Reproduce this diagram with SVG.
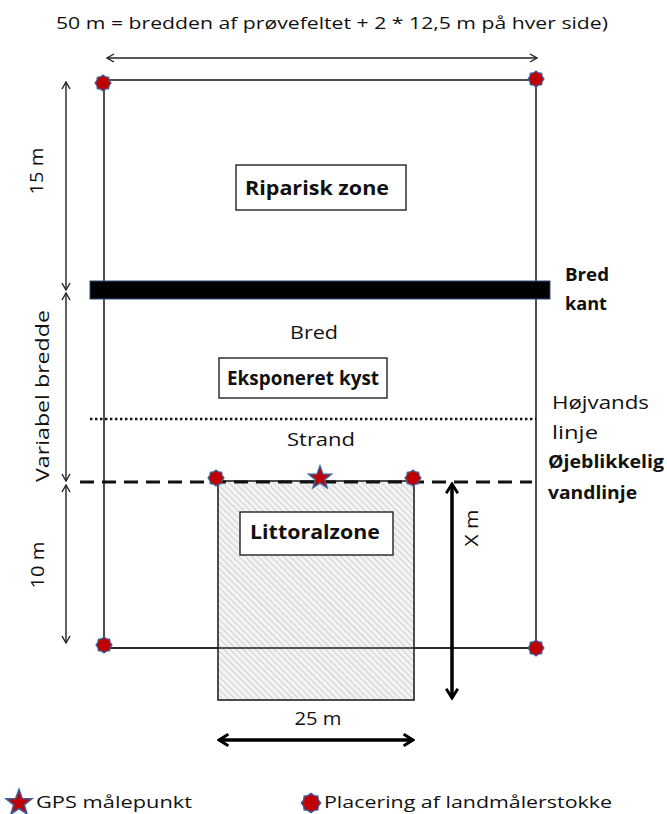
<svg xmlns="http://www.w3.org/2000/svg" width="667" height="814" viewBox="0 0 667 814">
<style>
text{font-family:"Open Sans","Liberation Sans",sans-serif;fill:#111}
.lbl{font-size:18px}
.b{font-weight:bold}
.dim{stroke:#222;stroke-width:1.4;fill:none;marker-start:url(#oa);marker-end:url(#oa)}
.thick{stroke:#000;stroke-width:3.5;fill:none;marker-start:url(#ta);marker-end:url(#ta)}
.box{fill:#fff;stroke:#222;stroke-width:1.4}
.pt{fill:#c00000;stroke:#3a5f9a;stroke-width:1.2}
</style>
<defs>
<marker id="oa" viewBox="0 0 10 10" refX="9" refY="5" markerWidth="10" markerHeight="10" markerUnits="userSpaceOnUse" orient="auto-start-reverse">
<path d="M2,1 L9,5 L2,9" fill="none" stroke="#222" stroke-width="1.4"/>
</marker>
<marker id="ta" viewBox="0 0 12 12" refX="10" refY="6" markerWidth="14" markerHeight="14" markerUnits="userSpaceOnUse" orient="auto-start-reverse">
<path d="M2,1 L10,6 L2,11" fill="none" stroke="#000" stroke-width="2.5"/>
</marker>
<pattern id="hatch" width="4.5" height="4.5" patternUnits="userSpaceOnUse" patternTransform="rotate(-45)">
<rect width="4.5" height="4.5" fill="#f3f3f3"/>
<line x1="0" y1="0" x2="0" y2="4.5" stroke="#c8c8c8" stroke-width="1.6"/>
</pattern>
<polygon id="oct" class="pt" points="0,-8 2.6,-6.1 5.7,-5.7 6.1,-2.6 8,0 6.1,2.6 5.7,5.7 2.6,6.1 0,8 -2.6,6.1 -5.7,5.7 -6.1,2.6 -8,0 -6.1,-2.6 -5.7,-5.7 -2.6,-6.1"/>
<polygon id="star" class="pt" points="0,-10 2.4,-3.3 9.5,-3.1 3.9,1.3 5.9,8.1 0,4.1 -5.9,8.1 -3.9,1.3 -9.5,-3.1 -2.4,-3.3"/>
</defs>

<text x="332" y="29" font-size="17" text-anchor="middle" textLength="552" lengthAdjust="spacingAndGlyphs">50 m = bredden af prøvefeltet + 2 * 12,5 m på hver side)</text>

<g id="plot">
<rect x="104" y="80" width="432" height="568" fill="#fff" stroke="#222" stroke-width="1.6"/>
</g>
<g id="littoral-area">
<rect x="218" y="481" width="196" height="219" fill="url(#hatch)" stroke="#222" stroke-width="1.6"/>
<line x1="104" y1="648" x2="536" y2="648" stroke="#222" stroke-width="1.6"/>
</g>

<g id="connectors">
<line class="dim" x1="107" y1="58" x2="537" y2="58"/>
<line class="dim" x1="66" y1="82" x2="66" y2="290"/>
<line class="dim" x1="66" y1="293" x2="66" y2="481"/>
<line class="dim" x1="66" y1="485" x2="66" y2="643"/>
<line class="thick" x1="452" y1="484" x2="452" y2="698"/>
<line class="thick" x1="219" y1="740" x2="413" y2="740"/>
<line x1="90" y1="419" x2="536" y2="419" stroke="#111" stroke-width="2.4" stroke-dasharray="2.4,2.6"/>
<line x1="80" y1="482" x2="532" y2="482" stroke="#111" stroke-width="3" stroke-dasharray="14,8"/>
</g>

<g id="bank-edge">
<rect x="90" y="281" width="460" height="18" fill="#000" stroke="#2f4f7f" stroke-width="1"/>
</g>

<g id="riparisk">
<rect class="box" x="236" y="165" width="170" height="45"/>
<text class="b" x="317" y="195" text-anchor="middle" font-size="20" textLength="144" lengthAdjust="spacingAndGlyphs">Riparisk zone</text>
</g>
<g id="eksponeret">
<rect class="box" x="219" y="358" width="168" height="40"/>
<text class="b" x="303" y="385" text-anchor="middle" font-size="19" textLength="152" lengthAdjust="spacingAndGlyphs">Eksponeret kyst</text>
</g>
<g id="littoralzone">
<rect class="box" x="240" y="512" width="153" height="43"/>
<text class="b" x="315" y="539" text-anchor="middle" font-size="20" textLength="130" lengthAdjust="spacingAndGlyphs">Littoralzone</text>
</g>

<g id="labels">
<text class="lbl" x="314" y="339" text-anchor="middle" textLength="48" lengthAdjust="spacingAndGlyphs">Bred</text>
<text class="lbl" x="321" y="446" text-anchor="middle" textLength="68" lengthAdjust="spacingAndGlyphs">Strand</text>
<text class="lbl b" x="565" y="281" textLength="44" lengthAdjust="spacingAndGlyphs">Bred</text>
<text class="lbl b" x="565" y="310" textLength="42" lengthAdjust="spacingAndGlyphs">kant</text>
<text class="lbl" x="552" y="409" textLength="97" lengthAdjust="spacingAndGlyphs">Højvands</text>
<text class="lbl" x="552" y="439" textLength="46" lengthAdjust="spacingAndGlyphs">linje</text>
<text class="lbl b" x="548" y="468" textLength="116" lengthAdjust="spacingAndGlyphs">Øjeblikkelig</text>
<text class="lbl b" x="548" y="499" textLength="89" lengthAdjust="spacingAndGlyphs">vandlinje</text>
<text class="lbl" transform="translate(43,171) rotate(-90)" text-anchor="middle" textLength="47" lengthAdjust="spacingAndGlyphs">15 m</text>
<text class="lbl" transform="translate(49,396) rotate(-90)" text-anchor="middle" textLength="172" lengthAdjust="spacingAndGlyphs">Variabel bredde</text>
<text class="lbl" transform="translate(44,565) rotate(-90)" text-anchor="middle" textLength="47" lengthAdjust="spacingAndGlyphs">10 m</text>
<text class="lbl" transform="translate(478,528) rotate(-90)" text-anchor="middle" textLength="37" lengthAdjust="spacingAndGlyphs">X m</text>
<text class="lbl" x="318" y="725" text-anchor="middle" textLength="47" lengthAdjust="spacingAndGlyphs">25 m</text>
</g>

<g id="markers">
<use href="#oct" x="103" y="83"/>
<use href="#oct" x="536" y="79"/>
<use href="#oct" x="104" y="645"/>
<use href="#oct" x="536" y="648"/>
<use href="#oct" x="216" y="478"/>
<use href="#oct" x="413" y="478"/>
<use href="#star" transform="translate(320,478) scale(1.2)"/>
</g>

<g id="legend">
<use href="#star" transform="translate(19,803) scale(1.35)"/>
<text x="36" y="808" font-size="17" textLength="156" lengthAdjust="spacingAndGlyphs">GPS målepunkt</text>
<use href="#oct" transform="translate(311,803) scale(1.2)"/>
<text x="324" y="808" font-size="17" textLength="288" lengthAdjust="spacingAndGlyphs">Placering af landmålerstokke</text>
</g>
</svg>
